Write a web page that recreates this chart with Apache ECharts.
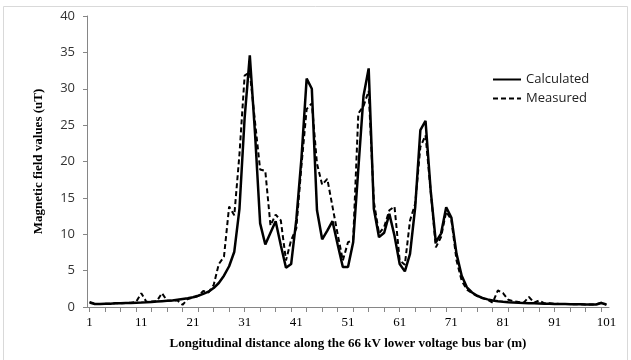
<!DOCTYPE html>
<html>
<head>
<meta charset="utf-8">
<script src="https://cdn.jsdelivr.net/npm/echarts@6/dist/echarts.min.js"></script>
<style>
  html, body { margin: 0; padding: 0; background: #fff; }
  #chart { width: 631px; height: 360px; }
</style>
</head>
<body>
<div id="chart"></div>
<script>
// Distance along the bus bar (m), one category per metre
const distances = [];
for (let d = 1; d <= 101; d++) distances.push(String(d));

// Magnetic field from the calculation model (uT)
const calculated = [
  0.6, 0.4, 0.4, 0.45, 0.45, 0.5, 0.5, 0.55, 0.55, 0.6,
  0.62, 0.65, 0.7, 0.75, 0.8, 0.85, 0.9, 1.0, 1.1, 1.2,
  1.35, 1.55, 1.8, 2.1, 2.6, 3.3, 4.3, 5.6, 7.6, 13.5,
  26, 34.6, 24, 11.5, 8.6, 10.2, 11.8, 8.5, 5.4, 5.9,
  12, 20.5, 31.4, 30, 13.3, 9.3, 10.5, 11.8, 8.6, 5.5,
  5.5, 8.9, 19, 29, 32.8, 13.5, 9.6, 10.2, 12.8, 9.8,
  5.9, 4.9, 7.3, 13.7, 24.3, 25.6, 16, 8.9, 10.1, 13.7,
  12.3, 7.3, 4.3, 2.7, 2.0, 1.55, 1.25, 1.05, 0.9, 0.8,
  0.72, 0.66, 0.62, 0.58, 0.55, 0.52, 0.5, 0.48, 0.46, 0.44,
  0.42, 0.41, 0.4, 0.39, 0.38, 0.37, 0.36, 0.36, 0.35, 0.55,
  0.35
];

// Magnetic field from the site survey (uT)
const measured = [
  0.7, 0.45, 0.4, 0.45, 0.45, 0.5, 0.5, 0.55, 0.6, 0.7,
  1.9, 0.7, 0.75, 0.8, 1.9, 0.85, 0.9, 0.9, 0.3, 1.1,
  1.3, 1.5, 2.2, 2.0, 3.0, 5.9, 6.9, 13.8, 12.6, 21,
  31.8, 32.3, 25.5, 18.9, 18.7, 11.2, 12.7, 11.9, 6.4, 9.2,
  10.8, 19.5, 27.2, 28.0, 19.7, 16.8, 17.6, 13.8, 10.0, 6.4,
  8.9, 9.2, 26.6, 27.6, 29.7, 14.5, 10.1, 11, 13.3, 13.8,
  6.4, 5.8, 11.9, 14.2, 22, 23.6, 15.9, 8.2, 9.6, 13.1,
  12, 6.4, 3.6, 2.4, 1.9, 1.5, 1.2, 1.0, 0.6, 2.3,
  1.9, 1.0, 0.8, 0.7, 0.6, 1.4, 0.6, 0.9, 0.5, 0.5,
  0.45, 0.42, 0.4, 0.4, 0.38, 0.37, 0.36, 0.36, 0.35, 0.6,
  0.3
];

const yTicks = [0, 5, 10, 15, 20, 25, 30, 35, 40];

const chart = echarts.init(document.getElementById('chart'), null, { renderer: 'canvas' });

const axisGrey = '#868686';
const serif = '"Liberation Serif", "Times New Roman", serif';
const sans = '"Open Sans", "Liberation Sans", sans-serif';

chart.setOption({
  animation: false,
  backgroundColor: '#ffffff',
  graphic: [{
    type: 'rect',
    shape: { x: 3.5, y: 6.5, width: 624, height: 360 },
    style: { fill: 'none', stroke: '#d9d9d9', lineWidth: 1 },
    silent: true,
    z: -1
  }],
  grid: { left: 87, right: 22, top: 16, bottom: 53, containLabel: false },
  legend: {
    orient: 'vertical',
    left: 487,
    top: 68,
    itemWidth: 28,
    itemHeight: 10,
    itemGap: 6,
    itemStyle: { opacity: 0 },
    textStyle: { fontFamily: sans, fontSize: 13, color: '#222' },
    data: ['Calculated', 'Measured']
  },
  xAxis: {
    type: 'category',
    data: distances,
    boundaryGap: true,
    name: 'Longitudinal distance along the 66 kV lower voltage bus bar (m)',
    nameLocation: 'middle',
    nameGap: 30,
    nameTextStyle: { fontFamily: serif, fontWeight: 'bold', fontSize: 13, color: '#000' },
    axisLine: { lineStyle: { color: axisGrey, width: 1 } },
    axisTick: { show: true, interval: 2, alignWithLabel: true, length: 5, lineStyle: { color: axisGrey } },
    axisLabel: { interval: 9, margin: 9, fontFamily: serif, fontSize: 13, color: '#000' },
    splitLine: { show: false }
  },
  yAxis: {
    type: 'value',
    min: yTicks[0],
    max: yTicks[yTicks.length - 1],
    interval: 5,
    name: 'Magnetic field values (uT)',
    nameLocation: 'middle',
    nameGap: 42,
    nameRotate: 90,
    nameTextStyle: { fontFamily: serif, fontWeight: 'bold', fontSize: 13, color: '#000' },
    axisLine: { show: true, lineStyle: { color: axisGrey, width: 1 } },
    axisTick: { show: true, length: 4, lineStyle: { color: axisGrey } },
    axisLabel: { margin: 12, fontFamily: sans, fontSize: 13, color: '#333' },
    splitLine: { show: false }
  },
  series: [
    {
      name: 'Calculated',
      type: 'line',
      data: calculated,
      symbol: 'none',
      lineStyle: { color: '#000', width: 2.5, type: 'solid' },
      itemStyle: { color: '#000' },
      z: 3
    },
    {
      name: 'Measured',
      type: 'line',
      data: measured,
      symbol: 'none',
      lineStyle: { color: '#000', width: 2, type: [5, 3] },
      itemStyle: { color: '#000' },
      z: 2
    }
  ]
});
</script>
</body>
</html>
